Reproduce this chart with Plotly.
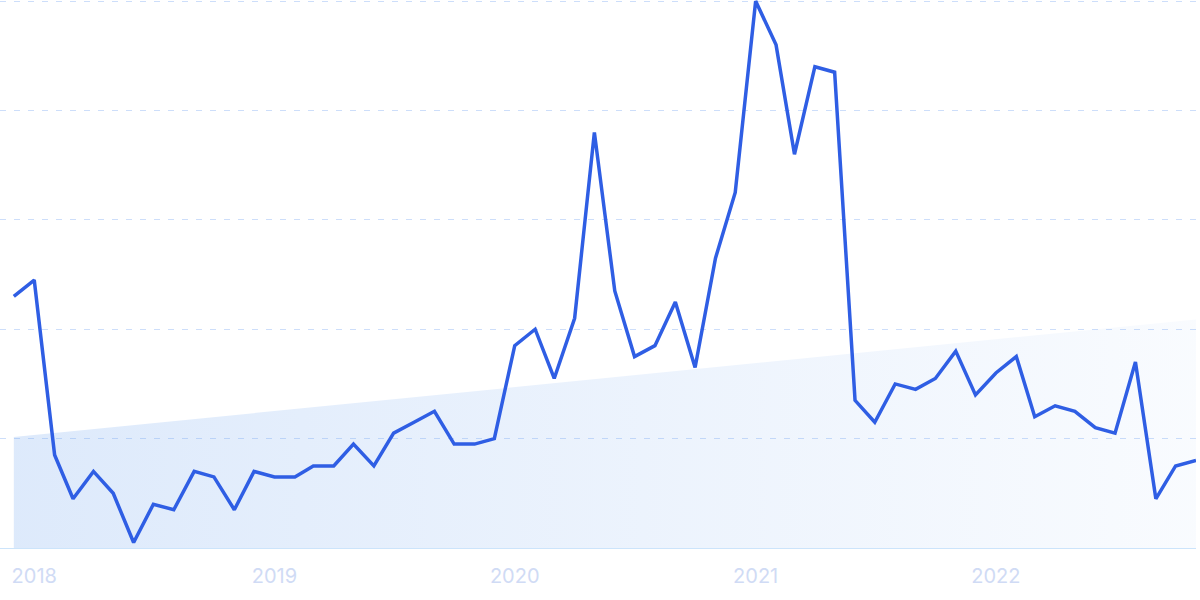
import pandas as pd
import plotly.graph_objects as go

# Monthly values, Dec 2017 .. Nov 2022
months = pd.date_range("2017-12-01", periods=60, freq="MS")
values = [46, 49, 17, 9, 14, 10, 1, 8, 7, 14,
          13, 7, 14, 13, 13, 15, 15, 19, 15, 21,
          23, 25, 19, 19, 20, 37, 40, 31, 42, 76,
          47, 35, 37, 45, 33, 53, 65, 100, 92, 72,
          88, 87, 27, 23, 30, 29, 31, 36, 28, 32,
          35, 24, 26, 25, 22, 21, 34, 9, 15, 16]
trend_values = [20.3, 41.8]  # trend line at first and last month
tick_dates = ["2018-01-01", "2019-01-01", "2020-01-01", "2021-01-01", "2022-01-01"]
tick_labels = ["2018", "2019", "2020", "2021", "2022"]

fig = go.Figure()

fig.add_trace(go.Scatter(
    x=[months[0], months[-1]], y=trend_values,
    mode="lines", line=dict(width=0, color="rgba(0,0,0,0)"),
    fill="tozeroy",
    fillgradient=dict(type="horizontal",
                      colorscale=[[0, "rgba(120,170,240,0.25)"],
                                  [1, "rgba(120,170,240,0.045)"]]),
    hoverinfo="skip", showlegend=False,
))

fig.add_trace(go.Scatter(
    x=months, y=values, mode="lines",
    line=dict(color="#2f5ee4", width=3.5),
    showlegend=False,
))

fig.update_layout(
    width=1200, height=600,
    margin=dict(l=0, r=4, t=0, b=52),
    paper_bgcolor="white", plot_bgcolor="white",
    font=dict(family="Inter", size=20, color="rgb(208,219,245)"),
)
fig.update_xaxes(
    range=["2017-11-10", "2022-11-01"],
    tickvals=tick_dates, ticktext=tick_labels,
    showgrid=False, zeroline=False,
    showline=True, linecolor="rgb(204,228,251)", linewidth=1,
    ticks="outside", ticklen=10, tickcolor="rgba(0,0,0,0)",
)
fig.update_yaxes(
    range=[0, 100.2], tickvals=[0, 20, 40, 60, 80, 100],
    showticklabels=False, zeroline=False,
    showgrid=True, gridcolor="rgb(205,222,250)", gridwidth=1, griddash="6px,8px",
)

fig.write_html("out.html",
               config={"displayModeBar": False},
               post_script="document.body.style.margin='0';document.body.style.padding='0';")
